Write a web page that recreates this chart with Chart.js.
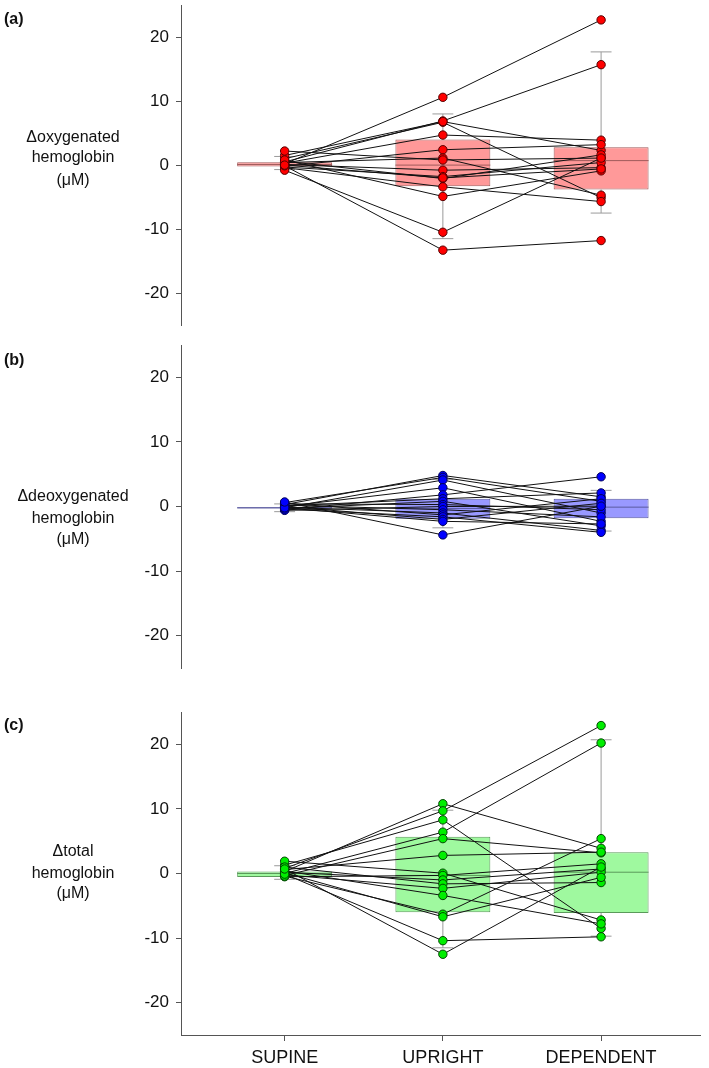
<!DOCTYPE html>
<html>
<head>
<meta charset="utf-8">
<script src="https://cdn.jsdelivr.net/npm/chart.js@4.4.1/dist/chart.umd.min.js"></script>
<style>
  html, body { margin: 0; padding: 0; background: #fff; }
  #wrap { position: relative; width: 709px; height: 1068px; }
  canvas { position: absolute; left: 0; }
</style>
</head>
<body>
<div id="wrap">
  <canvas id="cA" width="709" height="335" style="top:0px"></canvas>
  <canvas id="cB" width="709" height="345" style="top:335px"></canvas>
  <canvas id="cC" width="709" height="388" style="top:680px"></canvas>
</div>
<script>
// ---------- DATA ----------
const CATEGORIES = ['SUPINE', 'UPRIGHT', 'DEPENDENT'];
const Y_TICKS = [-20, -10, 0, 10, 20];

// (a) Δ oxygenated hemoglobin (μM), one value per subject
const OXY_SUPINE    = [0.2, 0.5, 1.0, 1.5, 0.3, -0.2, 0.4, 2.2, 0.1, -0.3, 0.6, -0.4, 0.8, -0.8, -0.1, 0.0];
const OXY_UPRIGHT   = [10.6, 6.9, 6.7, 6.8, 4.7, 2.4, 1.1, 0.8, -0.8, -1.8, -2.1, -3.4, -4.9, -10.5, -13.3, -2.0];
const OXY_DEPENDENT = [22.7, 15.7, -5.1, 2.3, 3.9, 3.2, -4.7, 1.1, -0.4, 0.4, 1.6, -5.7, -0.9, 1.1, -11.8, -0.6];
const OXY_Q1  = [-0.2, -3.3, -3.8];
const OXY_Q3  = [0.45, 4.0, 2.8];
const OXY_MED = [0.1, 0.0, 0.7];
const OXY_LO  = [-0.7, -11.5, -7.5];
const OXY_HI  = [1.35, 8.0, 17.7];

// (b) Δ deoxygenated hemoglobin (μM)
const DEOXY_SUPINE    = [0.3, 0.6, -0.2, 0.0, -0.5, 0.1, -0.3, 0.4, -0.6, 0.2, -0.1, 0.5, -0.4, 0.0, -0.2, 0.7];
const DEOXY_UPRIGHT   = [4.8, 4.5, 4.1, 2.9, 1.8, 1.2, 0.8, 0.3, 0.0, -0.5, -1.0, -1.3, -1.6, -2.0, -2.3, -4.4];
const DEOXY_DEPENDENT = [1.5, 0.8, -1.0, -2.3, 4.6, 2.1, -3.0, -0.5, 0.05, -1.6, -3.7, 1.2, -4.0, 0.5, -2.7, 0.05];
const DEOXY_Q1  = [-0.3, -1.9, -1.8];
const DEOXY_Q3  = [-0.1, 1.2, 1.2];
const DEOXY_MED = [-0.2, -0.3, -0.1];
const DEOXY_LO  = [-0.8, -3.3, -3.8];
const DEOXY_HI  = [0.4, 4.2, 2.5];

// (c) Δ total hemoglobin (μM)
const TOTAL_SUPINE    = [0.3, 0.8, 1.3, 0.0, -0.3, 0.6, 1.9, -0.5, 0.2, 1.0, -0.2, 0.4, -0.4, 0.1, -0.1, 0.7];
const TOTAL_UPRIGHT   = [10.8, 9.7, 8.3, 6.4, 5.4, 2.8, 0.05, -0.3, -1.0, -1.6, -2.3, -3.4, -6.3, -6.7, -10.4, -12.5];
const TOTAL_DEPENDENT = [3.9, 22.9, -8.5, 20.2, 3.2, 3.3, -7.2, 1.5, 0.7, -1.4, 0.2, -7.8, 5.4, -0.6, -9.8, 1.0];
const TOTAL_Q1  = [-0.55, -6.0, -6.1];
const TOTAL_Q3  = [0.3, 5.7, 3.3];
const TOTAL_MED = [0.0, -0.3, 0.2];
const TOTAL_LO  = [-0.9, -11.5, -9.7];
const TOTAL_HI  = [1.2, 9.8, 20.7];

// ---------- PLUGINS ----------
const FONT = '"Liberation Sans", Arial, Helvetica, sans-serif';

const boxPlugin = {
  id: 'boxWhisker',
  afterDatasetDraw(chart, args, opts) {
    if (args.meta.type !== 'bar') return;
    const ctx = chart.ctx;
    const ys = chart.scales.y;
    ctx.save();
    args.meta.data.forEach((bar, i) => {
      const x = bar.x;
      const half = bar.width / 2;
      const cap = bar.width * 0.11;
      const yq1 = ys.getPixelForValue(opts.q1[i]);
      const yq3 = ys.getPixelForValue(opts.q3[i]);
      const ylo = ys.getPixelForValue(opts.lo[i]);
      const yhi = ys.getPixelForValue(opts.hi[i]);
      const ymed = ys.getPixelForValue(opts.med[i]);
      ctx.strokeStyle = opts.whiskerColor;
      ctx.lineWidth = 1;
      ctx.beginPath();
      ctx.moveTo(x, Math.min(yq3, yq1)); ctx.lineTo(x, yhi);
      ctx.moveTo(x, Math.max(yq3, yq1)); ctx.lineTo(x, ylo);
      ctx.moveTo(x - cap, yhi); ctx.lineTo(x + cap, yhi);
      ctx.moveTo(x - cap, ylo); ctx.lineTo(x + cap, ylo);
      ctx.stroke();
      ctx.strokeStyle = opts.medianColor;
      ctx.beginPath();
      ctx.moveTo(x - half, ymed); ctx.lineTo(x + half, ymed);
      ctx.stroke();
    });
    ctx.restore();
  }
};

const textPlugin = {
  id: 'sideText',
  afterDraw(chart, args, opts) {
    const ctx = chart.ctx;
    ctx.save();
    ctx.fillStyle = '#111';
    ctx.textAlign = 'center';
    ctx.textBaseline = 'middle';
    ctx.font = '16px ' + FONT;
    opts.lines.forEach((t, i) => ctx.fillText(t, opts.x, opts.ys[i]));
    ctx.textAlign = 'left';
    ctx.font = 'bold 16px ' + FONT;
    ctx.fillText(opts.tag, 4, opts.tagY);
    ctx.restore();
  }
};

function noPad(s) { s.paddingTop = 0; s.paddingBottom = 0; s.paddingLeft = 0; s.paddingRight = 0; }

// ---------- BUILDER ----------
function makePanel(id, p) {
  const n = p.sup.length;
  const datasets = [];
  datasets.push({
    type: 'bar',
    data: [0, 1, 2].map(i => ({ x: i + 1, y: [p.q1[i], p.q3[i]] })),
    backgroundColor: p.boxFill,
    borderColor: p.boxEdge,
    borderWidth: 1,
    borderSkipped: false,
    barPercentage: 0.6,
    categoryPercentage: 1,
    order: 3
  });
  for (let s = 0; s < n; s++) {
    datasets.push({
      type: 'line',
      data: [{ x: 1, y: p.sup[s] }, { x: 2, y: p.up[s] }, { x: 3, y: p.dep[s] }],
      borderColor: '#111',
      borderWidth: 1,
      pointRadius: 0,
      tension: 0,
      fill: false,
      order: 2
    });
  }
  const pts = [];
  for (let s = 0; s < n; s++) {
    pts.push({ x: 1, y: p.sup[s] }, { x: 2, y: p.up[s] }, { x: 3, y: p.dep[s] });
  }
  datasets.push({
    type: 'scatter',
    data: pts,
    pointRadius: 4.2,
    pointBackgroundColor: p.dot,
    pointBorderColor: p.dotEdge,
    pointBorderWidth: 1,
    order: 1
  });

  return new Chart(document.getElementById(id), {
    type: 'bar',
    data: { datasets },
    options: {
      responsive: false,
      animation: false,
      events: [],
      layout: { padding: { top: p.padTop, bottom: p.padBottom, left: 0, right: 9 } },
      scales: {
        x: {
          type: 'linear',
          offset: false,
          min: 0.345, max: 3.625,
          display: p.showX,
          afterBuildTicks: s => { s.ticks = [1, 2, 3].map(v => ({ value: v })); },
          afterFit: s => { noPad(s); if (p.showX) s.height = 33; },
          grid: { display: true, offset: false, drawOnChartArea: false, drawTicks: true, tickLength: 6, tickColor: '#555', tickWidth: 1 },
          border: { display: true, color: '#555', width: 1 },
          ticks: {
            autoSkip: false, maxRotation: 0, padding: 6,
            color: '#111',
            font: { size: 18, family: FONT },
            callback: v => CATEGORIES[v - 1]
          }
        },
        y: {
          min: -25, max: 25,
          afterBuildTicks: s => { s.ticks = Y_TICKS.map(v => ({ value: v })); },
          afterFit: s => { noPad(s); s.width = 181; },
          grid: { display: true, drawOnChartArea: false, drawTicks: true, tickLength: 5, tickColor: '#555', tickWidth: 1 },
          border: { display: true, color: '#555', width: 1 },
          ticks: {
            padding: 7,
            color: '#111',
            font: { size: 17, family: FONT },
            callback: v => String(v)
          }
        }
      },
      plugins: {
        legend: { display: false },
        tooltip: { enabled: false },
        boxWhisker: { q1: p.q1, q3: p.q3, med: p.med, lo: p.lo, hi: p.hi, whiskerColor: '#9a9a9a', medianColor: p.boxEdge },
        sideText: { lines: p.title, x: 73, ys: p.titleY, tag: p.tag, tagY: p.tagY }
      }
    },
    plugins: [boxPlugin, textPlugin]
  });
}

makePanel('cA', {
  sup: OXY_SUPINE, up: OXY_UPRIGHT, dep: OXY_DEPENDENT,
  q1: OXY_Q1, q3: OXY_Q3, med: OXY_MED, lo: OXY_LO, hi: OXY_HI,
  boxFill: '#ff9999', boxEdge: '#a05a5a', dot: '#ff0000', dotEdge: '#550000',
  padTop: 3, padBottom: 10, showX: false,
  title: ['\u0394oxygenated', 'hemoglobin', '(\u03bcM)'], titleY: [138, 158, 181],
  tag: '(a)', tagY: 20
});
makePanel('cB', {
  sup: DEOXY_SUPINE, up: DEOXY_UPRIGHT, dep: DEOXY_DEPENDENT,
  q1: DEOXY_Q1, q3: DEOXY_Q3, med: DEOXY_MED, lo: DEOXY_LO, hi: DEOXY_HI,
  boxFill: '#9999ff', boxEdge: '#5a5aa0', dot: '#0000ff', dotEdge: '#000055',
  padTop: 10, padBottom: 12, showX: false,
  title: ['\u0394deoxygenated', 'hemoglobin', '(\u03bcM)'], titleY: [162, 184, 205],
  tag: '(b)', tagY: 26
});
makePanel('cC', {
  sup: TOTAL_SUPINE, up: TOTAL_UPRIGHT, dep: TOTAL_DEPENDENT,
  q1: TOTAL_Q1, q3: TOTAL_Q3, med: TOTAL_MED, lo: TOTAL_LO, hi: TOTAL_HI,
  boxFill: '#9ff99f', boxEdge: '#5a9a5a', dot: '#00ee00', dotEdge: '#004400',
  padTop: 32, padBottom: 0, showX: true,
  title: ['\u0394total', 'hemoglobin', '(\u03bcM)'], titleY: [172, 194, 214],
  tag: '(c)', tagY: 46
});
</script>
</body>
</html>
